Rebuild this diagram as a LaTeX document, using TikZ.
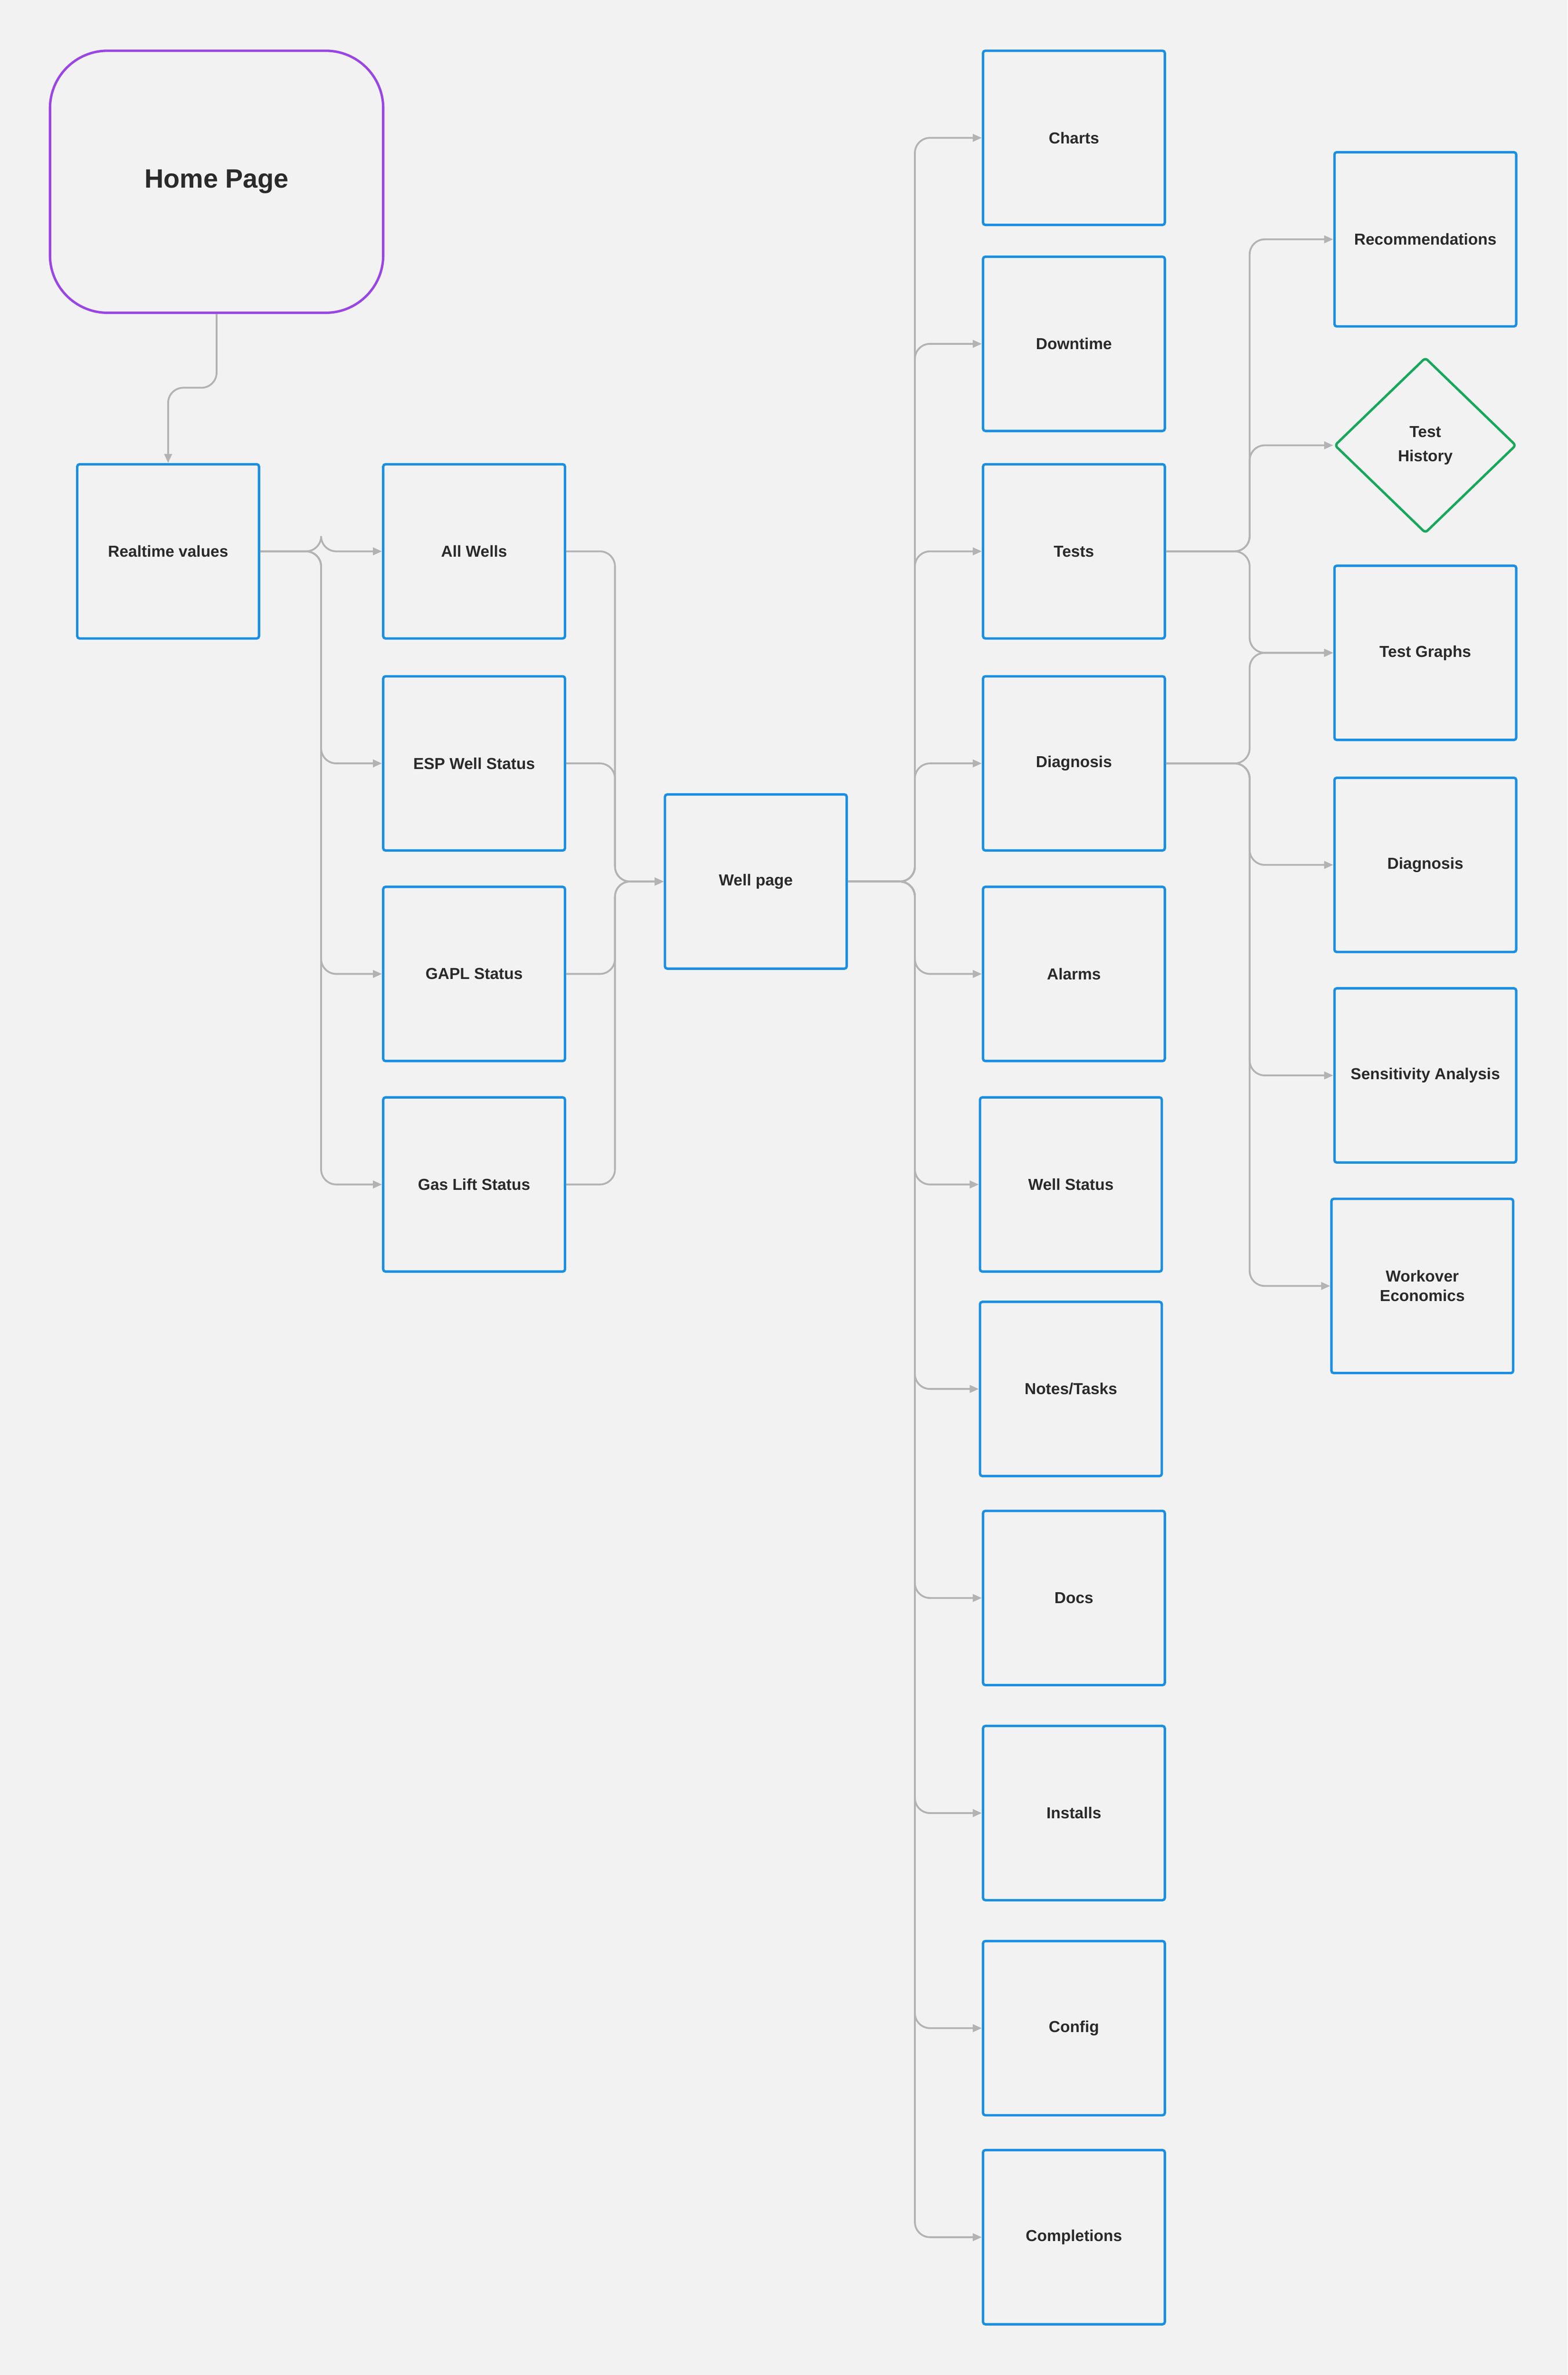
\documentclass[tikz,border=0pt]{standalone}
\usepackage{fontspec}
\setmainfont{Liberation Sans}
\usetikzlibrary{shapes.geometric,arrows.meta}
\definecolor{bg}{HTML}{F2F2F2}
\definecolor{bl}{HTML}{1A8FE3}
\definecolor{gr}{HTML}{16A85A}
\definecolor{pu}{HTML}{9A45E6}
\definecolor{ln}{HTML}{B3B3B3}
\definecolor{tx}{HTML}{2A2A2A}
\begin{document}
\begin{tikzpicture}[x=1pt,y=-1pt,
 box/.style={draw=bl,line width=1.6pt,rounded corners=1.5pt,minimum width=120pt,minimum height=115pt,font=\bfseries\fontsize{10.5}{13}\selectfont,text=tx,align=center,inner sep=0pt},
 dia/.style={draw=gr,line width=1.6pt,diamond,minimum width=120pt,minimum height=116pt,inner sep=0pt,font=\bfseries\fontsize{10.5}{16}\selectfont,text=tx,align=center,rounded corners=2pt},
 con/.style={draw=ln,line width=1.2pt,rounded corners=10pt,-{Triangle[length=6pt,width=5pt]}}]
\fill[bg] (0,0) rectangle (1035,1568);
\useasboundingbox (0,0) rectangle (1035,1568);
\node[draw=pu,line width=1.6pt,rounded corners=38pt,minimum width=220pt,minimum height=173pt,font=\bfseries\fontsize{17.5}{20}\selectfont,text=tx] (home) at (143,120) {Home Page};
\node[box] (rt) at (111,364) {Realtime values};
\node[box] (aw) at (313,364) {All Wells};
\node[box] (esp) at (313,504) {ESP Well Status};
\node[box] (gapl) at (313,643) {GAPL Status};
\node[box] (gl) at (313,782) {Gas Lift Status};
\node[box] (wp) at (499,582) {Well page};
\node[box] (ch) at (709,91) {Charts};
\node[box] (dt) at (709,227) {Downtime};
\node[box] (te) at (709,364) {Tests};
\node[box] (dg) at (709,504) {Diagnosis};
\node[box] (al) at (709,643) {Alarms};
\node[box] (ws) at (707,782) {Well Status};
\node[box] (nt) at (707,917) {Notes/Tasks};
\node[box] (dc) at (709,1055) {Docs};
\node[box] (in) at (709,1197) {Installs};
\node[box] (cf) at (709,1339) {Config};
\node[box] (cp) at (709,1477) {Completions};
\node[box] (rc) at (941,158) {Recommendations};
\node[dia] (th) at (941,294) {Test\\History};
\node[box] (tg) at (941,431) {Test Graphs};
\node[box] (d2) at (941,571) {Diagnosis};
\node[box] (sa) at (941,710) {Sensitivity Analysis};
\node[box] (we) at (939,849) {Workover\\Economics};
\coordinate (hy) at (0,256);
\coordinate (x1) at (212,0);
\coordinate (x2) at (406,0);
\coordinate (x3) at (604,0);
\coordinate (x4) at (825,0);
\draw[con] (home.south) -- (home.south |- hy) -| (rt.north);
\foreach \t in {aw,esp,gapl,gl} \draw[con] (rt.east) -- (rt.east -| x1) |- (\t.west);
\foreach \s in {aw,esp,gapl,gl} \draw[con] (\s.east) -- (\s.east -| x2) |- (wp.west);
\foreach \t in {ch,dt,te,dg,al,ws,nt,dc,in,cf,cp} \draw[con] (wp.east) -- (wp.east -| x3) |- (\t.west);
\foreach \t in {rc,th,tg} \draw[con] (te.east) -- (te.east -| x4) |- (\t.west);
\foreach \t in {tg,d2,sa,we} \draw[con] (dg.east) -- (dg.east -| x4) |- (\t.west);
\end{tikzpicture}
\end{document}
